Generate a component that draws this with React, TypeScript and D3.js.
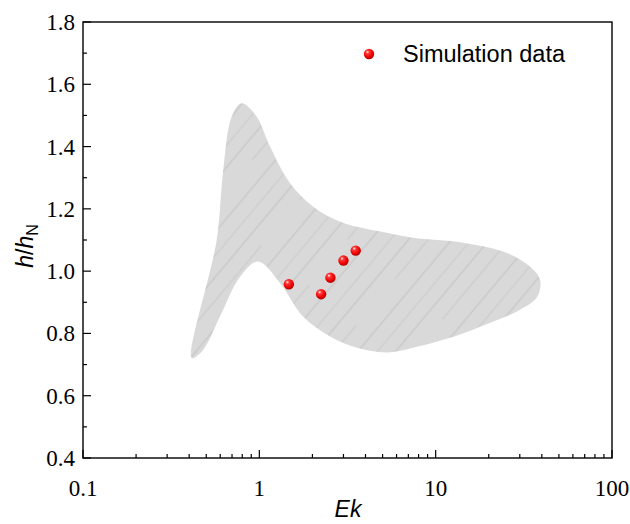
import React from "react";
import * as d3 from "d3";

// band outline, upper edge from the left tip, then lower edge back
const bandUpper: [number, number][] = [
  [0.414, 0.721], [0.573, 1.1], [0.622, 1.315], [0.697, 1.496], [0.794, 1.539],
  [0.966, 1.496], [1.15, 1.4], [1.49, 1.283], [2.02, 1.207], [2.98, 1.155],
  [5.28, 1.123], [7.45, 1.107], [14.3, 1.091], [25.4, 1.058], [34.3, 1.014],
  [39.1, 0.972],
];
const bandLower: [number, number][] = [
  [37.6, 0.917], [30.1, 0.876], [20.4, 0.834], [12.6, 0.789], [7.45, 0.754],
  [5.28, 0.739], [3.57, 0.754], [2.52, 0.79], [1.77, 0.854], [1.31, 0.962],
  [0.983, 1.031], [0.777, 0.982], [0.598, 0.854], [0.48, 0.747],
];

const simEk = [1.47, 2.24, 2.53, 3.0, 3.52];
const simH = [0.958, 0.926, 0.979, 1.034, 1.066];

const xTicks = [0.1, 1, 10, 100];
const xTickLabels = ["0.1", "1", "10", "100"];
const yTicks = [0.4, 0.6, 0.8, 1.0, 1.2, 1.4, 1.6, 1.8];
const yMinor = [0.5, 0.7, 0.9, 1.1, 1.3, 1.5, 1.7];

const W = 630;
const H = 524;
const left = 83, right = 612, top = 22, bottom = 458;

export default function App() {
  const x = d3.scaleLog().domain([0.1, 100]).range([left, right]);
  const y = d3.scaleLinear().domain([0.4, 1.8]).range([bottom, top]);

  const xMinor: number[] = [];
  [0.1, 1, 10].forEach((d) => {
    for (let k = 2; k <= 9; k++) xMinor.push(d * k);
  });

  const outline = [...bandUpper, ...bandLower];
  const area = d3
    .line<[number, number]>()
    .x((d) => x(d[0]))
    .y((d) => y(d[1]))
    .curve(d3.curveCatmullRomClosed.alpha(0.5))(outline);

  const serif = "'Liberation Serif', 'Times New Roman', serif";
  const sans = "'Liberation Sans', Arial, sans-serif";

  return (
    <div style={{ position: "absolute", left: 0, top: 0 }}>
      <svg width={W} height={H} style={{ display: "block", background: "#fff" }}>
        <defs>
          {/* faint, long diagonal strokes over light grey */}
          <pattern id="hatch" width="240" height="62" patternUnits="userSpaceOnUse" patternTransform="rotate(-50)">
            <rect width="240" height="62" fill="#d9d9d9" />
            <line x1="0" y1="4" x2="240" y2="4" stroke="#c0c0c0" strokeWidth="0.9" />
            <line x1="0" y1="19" x2="150" y2="19" stroke="#c6c6c6" strokeWidth="0.8" />
            <line x1="180" y1="19" x2="240" y2="19" stroke="#c6c6c6" strokeWidth="0.8" />
            <line x1="0" y1="33" x2="240" y2="33" stroke="#bebebe" strokeWidth="0.9" />
            <line x1="40" y1="48" x2="220" y2="48" stroke="#c4c4c4" strokeWidth="0.8" />
          </pattern>
          <radialGradient id="ball" cx="40%" cy="35%" r="65%" fx="35%" fy="30%">
            <stop offset="0%" stopColor="#ffffff" />
            <stop offset="25%" stopColor="#ff3a3a" />
            <stop offset="70%" stopColor="#f00000" />
            <stop offset="100%" stopColor="#b00000" />
          </radialGradient>
        </defs>

        <path d={area ?? ""} fill="url(#hatch)" stroke="none" />

        {simEk.map((d, i) => (
          <circle key={i} cx={x(d)} cy={y(simH[i])} r={5.2} fill="url(#ball)" />
        ))}

        {/* frame */}
        <rect x={left} y={top} width={right - left} height={bottom - top} fill="none" stroke="#000" strokeWidth={1.4} />

        {/* x ticks */}
        {xTicks.map((d, i) => (
          <g key={"xt" + i}>
            <line x1={x(d)} x2={x(d)} y1={bottom} y2={bottom - 8} stroke="#000" strokeWidth={1.2} />
            <text x={x(d)} y={bottom + 38} textAnchor="middle" fontFamily={serif} fontSize={23}>
              {xTickLabels[i]}
            </text>
          </g>
        ))}
        {xMinor.map((d, i) => (
          <line key={"xm" + i} x1={x(d)} x2={x(d)} y1={bottom} y2={bottom - 4} stroke="#000" strokeWidth={1.2} />
        ))}

        {/* y ticks */}
        {yTicks.map((d, i) => (
          <g key={"yt" + i}>
            <line x1={left} x2={left + 8} y1={y(d)} y2={y(d)} stroke="#000" strokeWidth={1.2} />
            <text x={left - 8} y={y(d) + 8} textAnchor="end" fontFamily={serif} fontSize={23}>
              {d.toFixed(1)}
            </text>
          </g>
        ))}
        {yMinor.map((d, i) => (
          <line key={"ym" + i} x1={left} x2={left + 4} y1={y(d)} y2={y(d)} stroke="#000" strokeWidth={1.2} />
        ))}

        {/* axis titles */}
        <text x={348} y={517} textAnchor="middle" fontFamily={sans} fontSize={23} fontStyle="italic">
          Ek
        </text>
        <text transform="translate(33,246) rotate(-90)" textAnchor="middle" fontFamily={sans} fontSize={23}>
          <tspan fontStyle="italic">h</tspan>
          <tspan>/</tspan>
          <tspan fontStyle="italic">h</tspan>
          <tspan fontSize={16} dy={5}>N</tspan>
        </text>

        {/* legend */}
        <circle cx={369} cy={54} r={5.2} fill="url(#ball)" />
        <text x={403} y={62} fontFamily={sans} fontSize={23.5}>
          Simulation data
        </text>
      </svg>
    </div>
  );
}
